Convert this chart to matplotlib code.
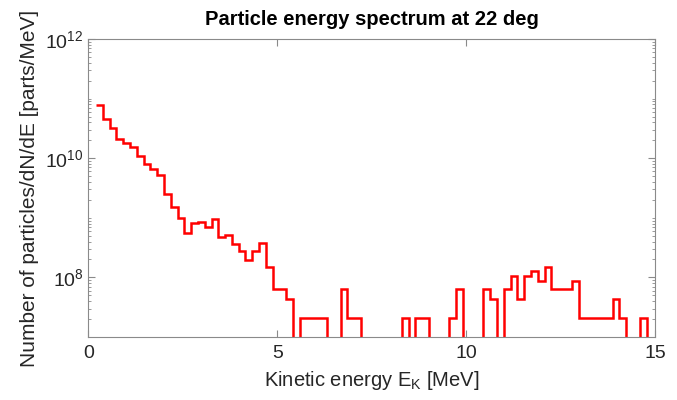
import numpy as np
import matplotlib
matplotlib.use("Agg")
import matplotlib.pyplot as plt
from matplotlib.ticker import FixedLocator, LogLocator, NullFormatter, LogFormatterSciNotation

plt.rcParams['font.family'] = ['Liberation Sans', 'DejaVu Sans']
plt.rcParams['mathtext.fontset'] = 'custom'
plt.rcParams['mathtext.rm'] = 'Liberation Sans'
plt.rcParams['mathtext.it'] = 'Liberation Sans:italic'
plt.rcParams['mathtext.bf'] = 'Liberation Sans:bold'

# bin edges [MeV]: 0.2 MeV start, 0.18 MeV wide bins
edges = np.round(0.2 + 0.18 * np.arange(83), 4)

# dN/dE per bin [parts/MeV]
counts = [
    7.9e10, 4.5e10, 3.2e10, 2.1e10, 1.8e10, 1.55e10, 1.1e10, 7.9e9, 6.6e9, 5.2e9,
    2.5e9, 1.5e9, 1.0e9, 5.6e8, 8.1e8, 8.6e8, 6.9e8, 9.5e8, 4.7e8, 5.2e8,
    3.6e8, 2.8e8, 1.95e8, 2.8e8, 3.8e8, 1.5e8, 6.4e7, 6.4e7, 4.3e7, 0,
    2.1e7, 2.1e7, 2.1e7, 2.1e7, 0, 0, 6.4e7, 2.1e7, 2.1e7, 0,
    0, 0, 0, 0, 0, 2.1e7, 0, 2.1e7, 2.1e7, 0,
    0, 0, 2.1e7, 6.4e7, 0, 0, 0, 6.4e7, 4.3e7, 0,
    6.4e7, 1.07e8, 4.3e7, 1.07e8, 1.28e8, 8.6e7, 1.5e8, 6.4e7, 6.4e7, 6.4e7,
    8.6e7, 2.1e7, 2.1e7, 2.1e7, 2.1e7, 2.1e7, 4.3e7, 2.1e7, 0, 0,
    2.1e7, 0,
]

fig = plt.figure(figsize=(6.77, 4.0), dpi=100)
ax = fig.add_axes([0.1305, 0.1575, 0.8370, 0.745])

ax.set_yscale('log', nonpositive='clip')
ax.stairs(counts, edges, baseline=None, color='#ff0000', linewidth=1.8)

ax.set_xlim(0, 15)
ax.set_ylim(1e7, 1e12)
ax.set_xticks([0, 5, 10, 15])
ax.yaxis.set_major_locator(FixedLocator([1e8, 1e10, 1e12]))
ax.yaxis.set_major_formatter(LogFormatterSciNotation())
ax.yaxis.set_minor_locator(LogLocator(base=10, subs=np.arange(1, 10), numticks=20))
ax.yaxis.set_minor_formatter(NullFormatter())

gray = '#8a8a8a'
for s in ax.spines.values():
    s.set_color(gray)
    s.set_linewidth(0.8)
ax.tick_params(which='both', direction='in', top=True, right=True,
               color=gray, labelcolor='#262626', labelsize=14)
ax.tick_params(axis='x', which='major', pad=6)
ax.tick_params(which='major', length=5, width=0.8)
ax.tick_params(which='minor', length=2.5, width=0.6)

ax.set_title('Particle energy spectrum at 22 deg', fontsize=14.5, fontweight='bold', pad=10)
ax.set_xlabel(r'Kinetic energy E$_\mathrm{K}$ [MeV]', fontsize=14.5, color='#262626', labelpad=5)
ax.set_ylabel('Number of particles/dN/dE [parts/MeV]', fontsize=15, color='#262626', labelpad=4)

fig.savefig('out.png', dpi=100)
